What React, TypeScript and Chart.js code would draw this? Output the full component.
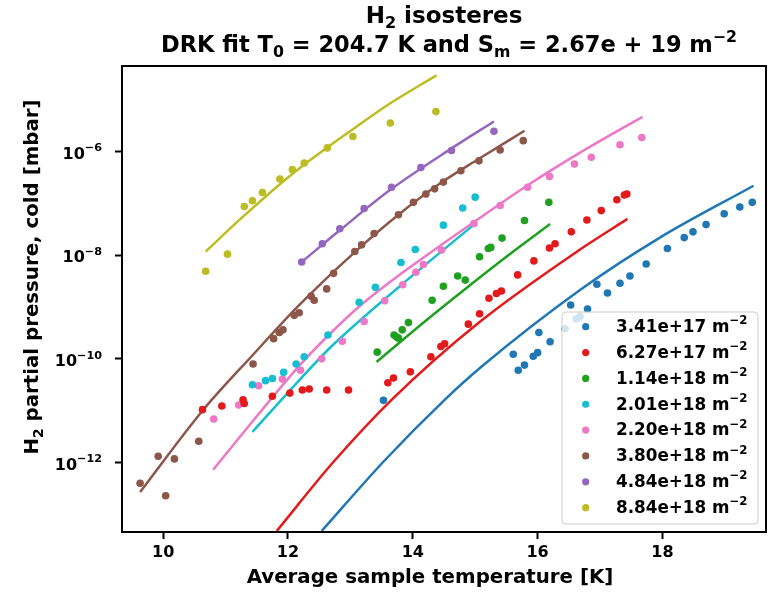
import { useEffect, useRef } from 'react';
import { Chart, registerables } from 'chart.js';

Chart.register(...registerables);

const FONT = '"DejaVu Sans", sans-serif';

// Surface coverages of the isosteres (legend entries, m^-2)
const coverage = ['3.41e+17', '6.27e+17', '1.14e+18', '2.01e+18', '2.20e+18', '3.80e+18', '4.84e+18', '8.84e+18'];
const colors = ['#1f77b4', '#e31a1c', '#1fa01f', '#17becf', '#ec78c6', '#8c564b', '#9467bd', '#bcbd22'];

// Axis ranges and ticks
const xMin = 9.34;
const xMax = 19.66;
const xTicks = [10, 12, 14, 16, 18];
const yMinExp = -13.34;
const yMaxExp = -4.35;
const yTickExps = [-12, -10, -8, -6];

// Measured isostere points: sample temperature [K] and log10 of the H2 pressure [mbar]
const t341 = [13.53, 15.61, 15.69, 15.79, 15.93, 16.0, 16.02, 16.2, 16.44, 16.53, 16.62, 16.68, 16.8, 16.95, 17.12, 17.32, 17.48, 17.74, 18.08, 18.35, 18.49, 18.7, 18.99, 19.24, 19.44];
const lp341 = [-10.8, -9.91, -10.22, -10.12, -9.95, -9.88, -9.49, -9.67, -9.42, -8.96, -9.23, -9.18, -9.04, -8.56, -8.73, -8.54, -8.4, -8.17, -7.87, -7.66, -7.55, -7.41, -7.2, -7.07, -6.98];

const t627 = [10.63, 10.94, 11.28, 11.3, 11.75, 12.03, 12.23, 12.34, 12.62, 12.97, 13.6, 13.69, 13.96, 14.29, 14.45, 14.51, 14.89, 15.07, 15.22, 15.34, 15.42, 15.68, 15.94, 16.19, 16.28, 16.54, 16.79, 17.02, 17.27, 17.39, 17.43];
const lp627 = [-10.98, -10.91, -10.79, -10.86, -10.72, -10.66, -10.6, -10.58, -10.6, -10.6, -10.46, -10.37, -10.25, -9.96, -9.76, -9.71, -9.33, -9.13, -8.83, -8.74, -8.69, -8.38, -8.11, -7.86, -7.78, -7.55, -7.32, -7.14, -6.93, -6.84, -6.82];

const t114 = [13.43, 13.7, 13.74, 13.77, 13.83, 13.93, 14.31, 14.49, 14.72, 14.84, 15.07, 15.21, 15.25, 15.43, 15.79, 16.18];
const lp114 = [-9.87, -9.54, -9.58, -9.6, -9.44, -9.3, -8.87, -8.6, -8.4, -8.48, -8.03, -7.87, -7.85, -7.67, -7.33, -6.98];

const t201 = [11.43, 11.64, 11.75, 11.93, 12.13, 12.26, 12.64, 13.14, 13.4, 13.81, 14.04, 14.49, 14.8, 15.0];
const lp201 = [-10.5, -10.42, -10.38, -10.26, -10.1, -9.96, -9.54, -8.91, -8.62, -8.14, -7.89, -7.42, -7.09, -6.88];

const t220 = [10.81, 11.21, 11.53, 11.91, 12.2, 12.54, 12.87, 13.22, 13.55, 13.84, 14.05, 14.17, 14.46, 14.98, 15.4, 15.84, 16.19, 16.59, 16.86, 17.32, 17.67];
const lp220 = [-11.16, -10.89, -10.52, -10.39, -10.22, -10.0, -9.66, -9.28, -8.88, -8.57, -8.33, -8.18, -7.9, -7.39, -7.04, -6.69, -6.48, -6.24, -6.11, -5.87, -5.73];

const t380 = [9.63, 9.92, 10.04, 10.18, 10.57, 11.44, 11.77, 11.86, 11.92, 12.1, 12.18, 12.37, 12.42, 12.62, 12.73, 13.07, 13.18, 13.38, 13.77, 14.01, 14.21, 14.35, 14.49, 14.77, 15.06, 15.4, 15.77];
const lp380 = [-12.4, -11.88, -12.64, -11.93, -11.59, -10.1, -9.61, -9.49, -9.44, -9.16, -9.11, -8.79, -8.87, -8.65, -8.35, -7.93, -7.8, -7.58, -7.22, -6.98, -6.82, -6.72, -6.59, -6.37, -6.18, -5.97, -5.79];

const t484 = [12.22, 12.55, 12.83, 13.22, 13.66, 14.13, 14.62, 15.3];
const lp484 = [-8.13, -7.78, -7.49, -7.1, -6.69, -6.31, -5.98, -5.61];

const t884 = [10.68, 11.03, 11.3, 11.43, 11.59, 11.87, 12.07, 12.26, 12.63, 13.04, 13.64, 14.37];
const lp884 = [-8.31, -7.98, -7.06, -6.95, -6.79, -6.53, -6.35, -6.22, -5.93, -5.71, -5.45, -5.23];

// DRK fit curves for each isostere: temperature [K] and log10 of the pressure [mbar]
const fitT341 = [12.54, 13.54, 14.51, 15.08, 16.68, 17.96, 19.46];
const fitLp341 = [-13.32, -11.97, -10.79, -10.17, -8.67, -7.66, -6.66];

const fitT627 = [11.82, 12.72, 13.66, 15.08, 16.68, 17.44];
const fitLp627 = [-13.32, -12.0, -10.79, -9.28, -7.89, -7.3];

const fitT114 = [13.42, 14.11, 14.81, 15.51, 16.2];
const fitLp114 = [-10.06, -9.36, -8.68, -8.02, -7.4];

const fitT201 = [11.43, 12.19, 12.67, 13.83, 14.98];
const fitLp201 = [-11.41, -10.4, -9.79, -8.56, -7.41];

const fitT220 = [10.8, 11.28, 12.19, 12.67, 13.15, 13.83, 14.46, 14.98, 15.84, 16.68, 17.68];
const fitLp220 = [-12.14, -11.43, -10.12, -9.52, -8.98, -8.34, -7.8, -7.36, -6.65, -6.02, -5.33];

const fitT380 = [9.63, 10.63, 11.44, 12.19, 13.08, 13.77, 14.48, 15.06, 15.79];
const fitLp380 = [-12.57, -11.0, -9.92, -8.95, -7.93, -7.22, -6.58, -6.14, -5.6];

const fitT484 = [12.22, 12.83, 13.66, 14.62, 15.3];
const fitLp484 = [-8.13, -7.52, -6.72, -5.94, -5.42];

const fitT884 = [10.68, 11.23, 11.87, 12.26, 12.63, 13.04, 13.64, 14.38];
const fitLp884 = [-7.93, -7.31, -6.63, -6.25, -5.92, -5.57, -5.07, -4.53];

const points = [
  [t341, lp341], [t627, lp627], [t114, lp114], [t201, lp201],
  [t220, lp220], [t380, lp380], [t484, lp484], [t884, lp884],
];
const fits = [
  [fitT341, fitLp341], [fitT627, fitLp627], [fitT114, fitLp114], [fitT201, fitLp201],
  [fitT220, fitLp220], [fitT380, fitLp380], [fitT484, fitLp484], [fitT884, fitLp884],
];

type Seg = { t: string; s?: 'sub' | 'sup' };

function richWidth(ctx: CanvasRenderingContext2D, segs: Seg[], size: number) {
  let w = 0;
  for (const seg of segs) {
    ctx.font = `bold ${seg.s ? size * 0.7 : size}px ${FONT}`;
    w += ctx.measureText(seg.t).width;
  }
  return w;
}

function drawRich(
  ctx: CanvasRenderingContext2D,
  segs: Seg[],
  x: number,
  y: number,
  size: number,
  align: 'left' | 'center' | 'right',
) {
  const total = richWidth(ctx, segs, size);
  let cx = align === 'center' ? x - total / 2 : align === 'right' ? x - total : x;
  ctx.textAlign = 'left';
  ctx.textBaseline = 'middle';
  for (const seg of segs) {
    ctx.font = `bold ${seg.s ? size * 0.7 : size}px ${FONT}`;
    const dy = seg.s === 'sub' ? size * 0.3 : seg.s === 'sup' ? -size * 0.38 : 0;
    ctx.fillText(seg.t, cx, y + dy);
    cx += ctx.measureText(seg.t).width;
  }
}

const decorations = {
  id: 'decorations',
  afterDatasetsDraw(chart: Chart) {
    const { ctx, chartArea: a } = chart;
    const yScale = chart.scales.y;
    ctx.save();

    // axes frame
    ctx.strokeStyle = '#000';
    ctx.lineWidth = 2;
    ctx.strokeRect(a.left, a.top, a.right - a.left, a.bottom - a.top);

    // y tick labels with superscript exponents
    ctx.fillStyle = '#000';
    for (const e of yTickExps) {
      const y = yScale.getPixelForValue(10 ** e);
      drawRich(ctx, [{ t: '10' }, { t: '\u2212' + Math.abs(e), s: 'sup' }], a.left - 20, y + 3, 16, 'right');
    }

    // titles
    drawRich(ctx, [{ t: 'H' }, { t: '2', s: 'sub' }, { t: ' isosteres' }], 444, 17, 23, 'center');
    drawRich(
      ctx,
      [
        { t: 'DRK fit T' }, { t: '0', s: 'sub' }, { t: ' = 204.7 K and S' }, { t: 'm', s: 'sub' },
        { t: ' = 2.67e + 19 m' }, { t: '\u22122', s: 'sup' },
      ],
      449, 46, 22.5, 'center',
    );
    drawRich(ctx, [{ t: 'Average sample temperature [K]' }], 430, 578, 19.8, 'center');
    ctx.save();
    ctx.translate(33, 277);
    ctx.rotate(-Math.PI / 2);
    drawRich(ctx, [{ t: 'H' }, { t: '2', s: 'sub' }, { t: ' partial pressure, cold [mbar]' }], 0, 0, 19.8, 'center');
    ctx.restore();

    // legend
    const lx = 562, ly = 312, lw = 196, lh = 212;
    ctx.beginPath();
    ctx.roundRect(lx, ly, lw, lh, 4);
    ctx.fillStyle = 'rgba(255,255,255,0.8)';
    ctx.fill();
    ctx.strokeStyle = '#cccccc';
    ctx.lineWidth = 1;
    ctx.stroke();
    coverage.forEach((c, i) => {
      const ry = 326.7 + i * 25.85;
      ctx.beginPath();
      ctx.arc(585.7, ry, 3.6, 0, Math.PI * 2);
      ctx.fillStyle = colors[i];
      ctx.fill();
      ctx.fillStyle = '#000';
      drawRich(ctx, [{ t: c + ' m' }, { t: '\u22122', s: 'sup' }], 616, ry + 1, 16.8, 'left');
    });

    ctx.restore();
  },
};

export default function App() {
  const canvasRef = useRef<HTMLCanvasElement>(null);

  useEffect(() => {
    const canvas = canvasRef.current;
    if (!canvas) return;

    const datasets: any[] = [];
    points.forEach(([t, lp], i) => {
      datasets.push({
        type: 'scatter',
        label: coverage[i],
        data: t.map((x, k) => ({ x, y: 10 ** lp[k] })),
        backgroundColor: colors[i],
        borderWidth: 0,
        pointRadius: 3.8,
        pointHoverRadius: 3.8,
      });
    });
    fits.forEach(([t, lp], i) => {
      datasets.push({
        type: 'line',
        label: coverage[i] + ' fit',
        data: t.map((x, k) => ({ x, y: 10 ** lp[k] })),
        borderColor: colors[i],
        borderWidth: 2.5,
        pointRadius: 0,
        fill: false,
        cubicInterpolationMode: 'monotone',
      });
    });

    const chart = new Chart(canvas, {
      type: 'scatter',
      data: { datasets },
      options: {
        animation: false,
        responsive: false,
        devicePixelRatio: 1,
        layout: { padding: { left: 0, right: 5, top: 66, bottom: 0 } },
        plugins: { legend: { display: false }, title: { display: false }, tooltip: { enabled: false } },
        scales: {
          x: {
            type: 'linear',
            min: xMin,
            max: xMax,
            afterBuildTicks: (s: any) => {
              s.ticks = xTicks.map((v) => ({ value: v }));
            },
            afterFit: (s: any) => {
              s.height = 61;
            },
            ticks: {
              color: '#000',
              font: { family: FONT, size: 16, weight: 'bold' },
              padding: 4,
              callback: (v: any) => String(v),
            },
            grid: { drawOnChartArea: false, drawTicks: true, tickLength: 7, tickWidth: 2, tickColor: '#000' },
            border: { display: true, color: '#000', width: 2 },
          },
          y: {
            type: 'logarithmic',
            min: 10 ** yMinExp,
            max: 10 ** yMaxExp,
            afterBuildTicks: (s: any) => {
              s.ticks = yTickExps.map((e) => ({ value: 10 ** e }));
            },
            afterFit: (s: any) => {
              s.width = 122;
            },
            ticks: { callback: () => '', padding: 0 },
            grid: { drawOnChartArea: false, drawTicks: true, tickLength: 7, tickWidth: 2, tickColor: '#000' },
            border: { display: true, color: '#000', width: 2 },
          },
        },
      },
      plugins: [decorations],
    } as any);

    return () => chart.destroy();
  }, []);

  return (
    <div style={{ position: 'absolute', left: 0, top: 0, width: 771, height: 593, background: '#fff' }}>
      <canvas ref={canvasRef} width={771} height={593} style={{ width: 771, height: 593, display: 'block' }} />
    </div>
  );
}
